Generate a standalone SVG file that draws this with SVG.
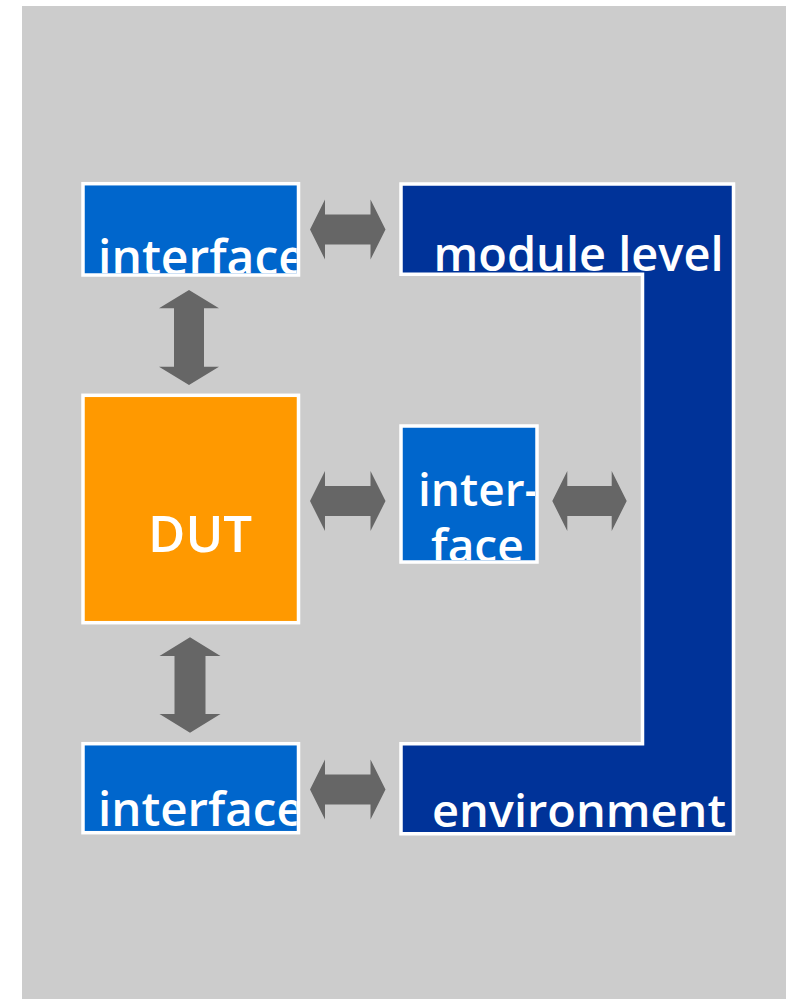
<svg xmlns="http://www.w3.org/2000/svg" width="787" height="999" viewBox="0 0 787 999">
<style>
.box{stroke:#ffffff;stroke-width:3.5}
.lb{fill:#0066cc}
.db{fill:#003399}
.or{fill:#ff9900}
.t{font-family:"Open Sans","Noto Sans","Liberation Sans",sans-serif;font-weight:600;fill:#ffffff}
.arr{fill:#666666}
</style>
<defs>
<clipPath id="cTop"><rect x="85" y="185.5" width="211.7" height="87.8"/></clipPath>
<clipPath id="cBot"><rect x="85" y="745.5" width="211.7" height="85.5"/></clipPath>
<clipPath id="cMid"><rect x="403" y="428" width="132" height="132"/></clipPath>
<clipPath id="cC"><polygon points="403,186 731.5,186 731.5,831.8 403,831.8 403,745.7 644.5,745.7 644.5,272.2 403,272.2"/></clipPath>
</defs>
<rect x="22" y="6" width="764" height="993" fill="#cccccc"/>
<g id="connectors">
<polygon class="arr" points="310,229.5 325,199.5 325,214.5 370.5,214.5 370.5,199.5 385.5,229.5 370.5,259.5 370.5,244.5 325,244.5 325,259.5"/>
<polygon class="arr" points="310,501 325,471 325,486 370.5,486 370.5,471 385.5,501 370.5,531 370.5,516 325,516 325,531"/>
<polygon class="arr" points="552.3,501 567.3,471 567.3,486 611.7,486 611.7,471 626.7,501 611.7,531 611.7,516 567.3,516 567.3,531"/>
<polygon class="arr" points="310,789.5 325,759.5 325,774.5 370.5,774.5 370.5,759.5 385.5,789.5 370.5,819.5 370.5,804.5 325,804.5 325,819.5"/>
<polygon class="arr" points="189,290 219,308.3 204,308.3 204,366.7 219,366.7 189,385 159,366.7 174,366.7 174,308.3 159,308.3"/>
<polygon class="arr" points="190,637.3 220.5,656 205.5,656 205.5,714 220.5,714 190,732.7 159.5,714 174.5,714 174.5,656 159.5,656"/>
</g>
<g id="interface-top">
<rect class="box lb" x="83" y="183.7" width="215.5" height="91.3"/>
<text class="t" x="98" y="275" font-size="48" clip-path="url(#cTop)">interface</text>
</g>
<g id="module-environment">
<polygon class="box db" points="401,184 733.5,184 733.5,833.8 401,833.8 401,743.7 642.5,743.7 642.5,274.2 401,274.2"/>
<text class="t" x="433.5" y="271" font-size="47" textLength="290" lengthAdjust="spacingAndGlyphs" clip-path="url(#cC)">module level</text>
<text class="t" x="432" y="827" font-size="46" textLength="294" lengthAdjust="spacingAndGlyphs" clip-path="url(#cC)">environment</text>
</g>
<g id="dut">
<rect class="box or" x="83" y="395.3" width="215.5" height="227.4"/>
<text class="t" x="148" y="552" font-size="51">DUT</text>
</g>
<g id="interface-mid">
<rect class="box lb" x="401" y="426" width="136" height="136"/>
<text class="t" font-size="46" clip-path="url(#cMid)"><tspan x="418" y="506">inter-</tspan><tspan x="431" y="562">face</tspan></text>
</g>
<g id="interface-bottom">
<rect class="box lb" x="83" y="743.7" width="215.5" height="89"/>
<text class="t" x="98" y="826" font-size="47.5" clip-path="url(#cBot)">interface</text>
</g>
</svg>
